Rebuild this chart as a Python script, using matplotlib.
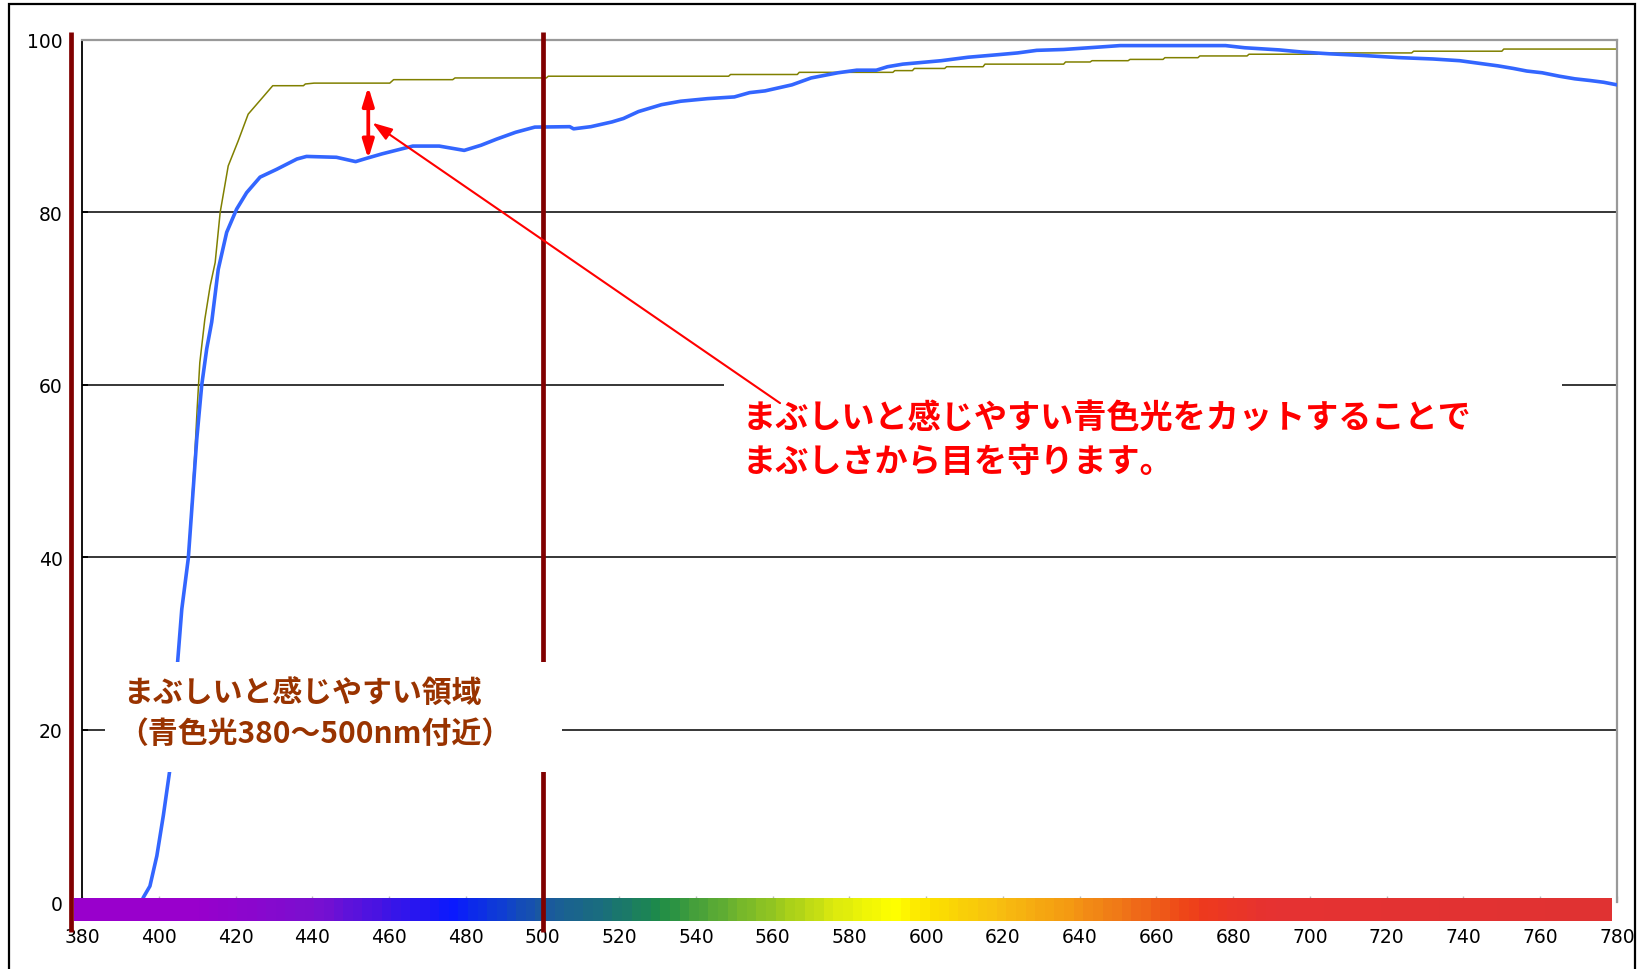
import matplotlib
matplotlib.use("Agg")
import matplotlib.pyplot as plt
import numpy as np
from matplotlib.colors import LinearSegmentedColormap
from matplotlib.patches import Rectangle

plt.rcParams["font.family"] = ["Noto Sans CJK JP", "DejaVu Sans"]

# transmittance curves (wavelength nm, %)
blue_x = [380, 395.4, 396, 397.7, 399.5, 401.2, 402.8, 404.9, 406, 407.7, 409.9, 411.2,
          412.5, 413.8, 415.5, 417.7, 420.3, 422.9, 426.4, 430.7, 436, 438.5, 446.3,
          451.3, 454.3, 458.2, 466.2, 473.1, 479.6, 484, 488, 493, 498, 507.1, 508.1,
          512.6, 518.1, 521.1, 525, 531, 536, 543, 550, 554, 558, 565, 570, 577, 581.9,
          587, 589.9, 593.9, 598.9, 603.9, 610.9, 618.8, 623.8, 628.8, 635.8, 645.7,
          650.5, 678, 683, 692, 698, 705, 714, 723, 732, 739, 744, 749, 753, 756.5,
          760.5, 765, 769, 773, 776.5, 780]
blue_y = [0, 0, 0.6, 1.9, 5.4, 10.1, 15.1, 27.8, 34, 39.9, 53.7, 60,
          64.2, 67.3, 73.4, 77.7, 80.4, 82.3, 84.1, 85.0, 86.2, 86.5, 86.4,
          85.9, 86.3, 86.8, 87.7, 87.7, 87.2, 87.8, 88.5, 89.3, 89.9, 89.95, 89.7,
          89.95, 90.5, 90.9, 91.7, 92.5, 92.9, 93.2, 93.4, 93.9, 94.1, 94.8, 95.6, 96.2, 96.5,
          96.5, 96.9, 97.2, 97.4, 97.6, 98.0, 98.3, 98.5, 98.8, 98.9, 99.2,
          99.35, 99.35, 99.1, 98.85, 98.6, 98.4, 98.2, 97.96, 97.8, 97.6, 97.3, 97.0, 96.7, 96.4,
          96.2, 95.8, 95.5, 95.3, 95.1, 94.8]

olive_x = [380, 395, 396, 397.7, 399.5, 401.2, 402.8, 404.9, 406, 407.7, 409.4, 410,
           410.7, 412, 413.4, 414.7, 416, 418.1, 420.7, 423.3, 426.8, 429.7, 437.7,
           438.2, 440.5, 460.2, 461.2, 476.6, 477.2, 501, 501.5, 548.5, 549, 566.4,
           566.9, 591.3, 591.8, 596.4, 596.9, 604.8, 605.3, 614.8, 615.3, 635.8, 636.3,
           642.7, 643.2, 652.6, 653.1, 661.7, 662.2, 670.8, 671.3, 683.6, 684.1, 701.9,
           702.4, 726.5, 727, 750, 750.5, 780]
olive_y = [0, 0, 0.6, 1.9, 5.4, 10.1, 15.1, 27.8, 34, 40, 52, 57.2,
           62.6, 67.6, 71.5, 74.2, 80, 85.4, 88.3, 91.4, 93.2, 94.7, 94.7,
           94.9, 95.0, 95.0, 95.4, 95.4, 95.6, 95.6, 95.8, 95.8, 96.0, 96.0,
           96.25, 96.25, 96.45, 96.45, 96.7, 96.7, 96.9, 96.9, 97.2, 97.2, 97.45,
           97.45, 97.6, 97.6, 97.75, 97.75, 97.95, 97.95, 98.15, 98.15, 98.35, 98.35,
           98.5, 98.5, 98.7, 98.7, 98.95, 98.95]

# visible spectrum strip under the axis
spec_nm = [378, 408, 440, 460, 476, 489, 500, 516, 530, 545, 564.5, 575, 591.5,
           602, 618.5, 635, 651, 668, 673, 691, 778.7]
spec_col = ["#9900CC", "#9900CC", "#7A10D0", "#3A15E8", "#0A1AFF", "#1040D0",
            "#1A5A9E", "#1A707A", "#1E8C48", "#5AAA35", "#A8D01A", "#D8E810",
            "#FFFF00", "#FCE000", "#F8C010", "#F5A012", "#F07818", "#EE4818",
            "#EE3A1E", "#E63232", "#E03232"]

x_ticks = list(range(380, 781, 20))
y_ticks = [0, 20, 40, 60, 80, 100]

text_red = "まぶしいと感じやすい青色光をカットすることで\nまぶしさから目を守ります。"
text_brown = ["まぶしいと感じやすい領域", "（青色光380～500nm付近）"]

MAROON = "#800000"
BROWN = "#993300"

fig = plt.figure(figsize=(16.49, 9.70), dpi=100)
ax = fig.add_axes([0.04973, 0.06856, 0.93086, 0.88918])

# curves
ax.plot(olive_x, olive_y, color="#808000", lw=1.1, zorder=2)
ax.plot(blue_x, blue_y, color="#3366FF", lw=2.6, zorder=3)

# grid lines
for v in [20, 40, 60, 80]:
    ax.axhline(v, color="black", lw=1.1, zorder=1)

# spectrum strip
lo, hi = spec_nm[0], spec_nm[-1]
cmap = LinearSegmentedColormap.from_list(
    "spec", [((n - lo) / (hi - lo), c) for n, c in zip(spec_nm, spec_col)])
strip = np.linspace(0, 1, 160).reshape(1, -1)
im = ax.imshow(strip, cmap=cmap, aspect="auto", extent=[lo, hi, -2.15, 0.5],
               interpolation="nearest", zorder=4)
im.set_clip_on(False)

# blue light range markers
for xv in [377.2, 500]:
    ax.plot([xv, xv], [-3.4, 100.9], color=MAROON, lw=3.4, zorder=5,
            clip_on=False, solid_capstyle="butt")
ax.annotate("", xy=(377.2, 34.0), xytext=(500, 34.0),
            arrowprops=dict(arrowstyle="<|-|>,head_length=0.55,head_width=0.24",
                            color=MAROON, lw=2.9, mutation_scale=20,
                            shrinkA=0, shrinkB=0), zorder=6)

# white boxes behind the texts
ax.add_patch(Rectangle((386, 15.1), 119, 12.8, facecolor="white",
                       edgecolor="none", zorder=7))
ax.add_patch(Rectangle((547.2, 47.9), 218.4, 13.0, facecolor="white",
                       edgecolor="none", zorder=7))

ax.text(390.6, 24.3, text_brown[0], color=BROWN, fontsize=21.5,
        fontweight="bold", va="center", ha="left", zorder=8)
ax.text(389.4, 19.6, text_brown[1], color=BROWN, fontsize=21.5,
        fontweight="bold", va="center", ha="left", zorder=8)
ax.text(552.1, 53.65, text_red, color="#FF0000", fontsize=23.9,
        fontweight="bold", va="center", ha="left", linespacing=1.42, zorder=8)

# red arrows
ax.annotate("", xy=(454.6, 94.6), xytext=(454.6, 86.2),
            arrowprops=dict(arrowstyle="<|-|>,head_length=0.55,head_width=0.17",
                            color="#FF0000", lw=2.7, mutation_scale=20,
                            shrinkA=0, shrinkB=0), zorder=9)
ax.annotate("", xy=(455.7, 90.4), xytext=(561.9, 57.9),
            arrowprops=dict(arrowstyle="-|>,head_length=0.6,head_width=0.2",
                            color="#FF0000", lw=1.5, mutation_scale=20,
                            shrinkA=0, shrinkB=0), zorder=9)

ax.set_xlim(380, 780)
ax.set_ylim(0, 100)
ax.set_xticks(x_ticks)
ax.set_yticks(y_ticks)
tick_font = ["Liberation Sans Narrow", "DejaVu Sans"]
ax.set_xticklabels([str(t) for t in x_ticks], family=tick_font, fontsize=13.5)
ax.set_yticklabels([str(t) for t in y_ticks], family=tick_font, fontsize=13.5)
ax.tick_params(axis="x", direction="in", length=4.5, width=1, color="#bbbbbb", pad=18)
ax.tick_params(axis="y", direction="in", length=4.5, width=1.3, color="black", pad=14)

ax.spines["left"].set_color("black")
ax.spines["left"].set_linewidth(1.3)
ax.spines["top"].set_color("#999999")
ax.spines["top"].set_linewidth(1.6)
ax.spines["right"].set_color("#999999")
ax.spines["right"].set_linewidth(1.6)
ax.spines["bottom"].set_visible(False)

# outer frame
fig.add_artist(Rectangle((0.00546, -0.02), 0.98634, 1.01505, transform=fig.transFigure,
                         fill=False, edgecolor="black", lw=1.6))

fig.savefig("out.png", dpi=100)
